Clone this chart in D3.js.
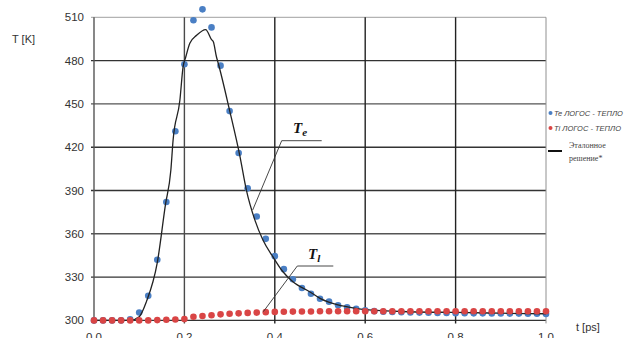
<!DOCTYPE html>
<html>
<head>
<meta charset="utf-8">
<script src="https://cdn.jsdelivr.net/npm/d3@7"></script>
<style>
  body { margin: 0; background: #fff; }
  svg { display: block; }
</style>
</head>
<body>
<div id="chart"></div>
<script>
// time points of the LOGOS series (ps)
const times = [0.00, 0.02, 0.04, 0.06, 0.08, 0.10, 0.12, 0.14, 0.16, 0.18,
  0.20, 0.22, 0.24, 0.26, 0.28, 0.30, 0.32, 0.34, 0.36, 0.38,
  0.40, 0.42, 0.44, 0.46, 0.48, 0.50, 0.52, 0.54, 0.56, 0.58,
  0.60, 0.62, 0.64, 0.66, 0.68, 0.70, 0.72, 0.74, 0.76, 0.78,
  0.80, 0.82, 0.84, 0.86, 0.88, 0.90, 0.92, 0.94, 0.96, 0.98, 1.00];

// Te LOGOS-TEPLO (K)
const teLogos = [300, 300, 300, 300, 300.7, 305.5, 317, 342, 382, 431,
  477.5, 508, 515.5, 503, 476.5, 445, 416, 391.5, 372, 356.5,
  344.5, 335.5, 328.5, 322.5, 318.5, 315, 313, 310.5, 309, 308,
  307, 306.4, 306, 305.8, 305.6, 305.5, 305.4, 305.3, 305.2, 305.1,
  305, 305, 304.9, 304.9, 304.8, 304.8, 304.7, 304.7, 304.6, 304.6, 304.5];

// Ti LOGOS-TEPLO (K)
const tiLogos = [300, 300, 300, 300, 300, 300, 300, 300.2, 300.4, 300.6,
  300.9, 302.5, 303.1, 303.6, 304.2, 304.6, 304.9, 305.2, 305.4, 305.7,
  305.9, 306, 306.1, 306.2, 306.2, 306.3, 306.3, 306.3, 306.3, 306.3,
  306.3, 306.3, 306.3, 306.3, 306.3, 306.3, 306.3, 306.3, 306.3, 306.3,
  306.3, 306.3, 306.3, 306.3, 306.3, 306.3, 306.3, 306.3, 306.3, 306.3, 306.3];

// reference ("etalon") solution for Te
const refT = [0.00, 0.08, 0.10, 0.116, 0.14, 0.158, 0.17, 0.175, 0.19, 0.197, 0.203,
  0.212, 0.227, 0.247, 0.26, 0.264, 0.271, 0.275, 0.30, 0.323, 0.337, 0.356,
  0.374, 0.396, 0.418, 0.44, 0.477, 0.50, 0.55, 0.60, 0.70, 0.80, 0.90, 1.00];
const refV = [300, 300, 302.5, 313, 340, 380, 404, 425, 452.5, 475.5, 482.5,
  492, 497.5, 501.5, 494.5, 493, 482.5, 478, 445.5, 413.5, 390.5, 369.5,
  355.5, 344, 333.7, 326.8, 319.9, 315.3, 310, 307.5, 306, 305.5, 305, 304.6];

const yTicks = [300, 330, 360, 390, 420, 450, 480, 510];
const xTicks = [0.0, 0.2, 0.4, 0.6, 0.8, 1.0];

const width = 625, height = 338;
const svg = d3.select('#chart').append('svg').attr('width', width).attr('height', height);

const x = d3.scaleLinear().domain([0, 1]).range([94, 546]);
const y = d3.scaleLinear().domain([300, 510]).range([320.4, 17.3]);

const grid = svg.append('g');

// horizontal grid
grid.selectAll('line.h').data(yTicks).enter().append('line')
  .attr('x1', x(0) - 3).attr('x2', x(1))
  .attr('y1', d => y(d)).attr('y2', d => y(d))
  .attr('stroke', d => d === 510 ? '#a0a0a0' : (d === 450 || d === 360 ? '#555' : '#333'))
  .attr('stroke-width', d => d === 510 ? 1 : 1.4);

// vertical grid
grid.selectAll('line.v').data(xTicks).enter().append('line')
  .attr('x1', d => x(d)).attr('x2', d => x(d))
  .attr('y1', y(510)).attr('y2', y(300) + 3)
  .attr('stroke', d => d === 0 ? '#555' : (d === 1 ? '#909090' : (d === 0.2 ? '#4a4a4a' : '#222')))
  .attr('stroke-width', d => d === 1 ? 1 : 1.4);

// tick labels
svg.append('g').selectAll('text').data(yTicks).enter().append('text')
  .attr('x', 84).attr('y', d => y(d) + 4)
  .attr('text-anchor', 'end')
  .attr('font-family', 'Arial, Liberation Sans, sans-serif').attr('font-size', 11.5)
  .attr('fill', '#333')
  .text(d => d);

svg.append('g').selectAll('text').data(xTicks).enter().append('text')
  .attr('x', d => x(d)).attr('y', 341)
  .attr('text-anchor', 'middle')
  .attr('font-family', 'Arial, Liberation Sans, sans-serif').attr('font-size', 11.5)
  .attr('fill', '#333')
  .text(d => d.toFixed(1));

svg.append('text').attr('x', 12).attr('y', 43)
  .attr('font-family', 'Arial, Liberation Sans, sans-serif').attr('font-size', 11)
  .attr('fill', '#333').text('T [K]');
svg.append('text').attr('x', 576).attr('y', 331)
  .attr('font-family', 'Arial, Liberation Sans, sans-serif').attr('font-size', 11)
  .attr('fill', '#333').text('t [ps]');

// series points
const te = times.map((t, i) => ({ t: t, v: teLogos[i] }));
const ti = times.map((t, i) => ({ t: t, v: tiLogos[i] }));

svg.append('g').selectAll('circle').data(te).enter().append('circle')
  .attr('cx', d => x(d.t)).attr('cy', d => y(d.v)).attr('r', 3.3)
  .attr('fill', '#4a7fc4');

// reference solution line
const ref = refT.map((t, i) => ({ t: t, v: refV[i] }));
const line = d3.line().x(d => x(d.t)).y(d => y(d.v)).curve(d3.curveMonotoneX);
svg.append('path').datum(ref).attr('d', line)
  .attr('fill', 'none').attr('stroke', '#222').attr('stroke-width', 1.3);

svg.append('g').selectAll('circle').data(ti).enter().append('circle')
  .attr('cx', d => x(d.t)).attr('cy', d => y(d.v)).attr('r', 3.3)
  .attr('fill', '#d94545');

// annotations
const ann = svg.append('g').attr('fill', 'none').attr('stroke', '#333').attr('stroke-width', 0.9);
ann.append('polyline').attr('points', '252.7,210 281.7,140.7 321.7,140.7');
ann.append('polyline').attr('points', '263.3,311.7 297.3,266 333.3,266');

const lab = svg.append('g').attr('font-family', 'Liberation Serif, Times New Roman, serif')
  .attr('font-style', 'italic').attr('font-weight', 'bold').attr('fill', '#111');
const l1 = lab.append('text').attr('x', 293).attr('y', 133).attr('font-size', 15);
l1.append('tspan').text('T');
l1.append('tspan').attr('font-size', 11).attr('dy', 3).text('e');
const l2 = lab.append('text').attr('x', 308).attr('y', 259).attr('font-size', 15);
l2.append('tspan').text('T');
l2.append('tspan').attr('font-size', 11).attr('dy', 3).text('l');

// legend
const leg = svg.append('g').attr('font-size', 7.5).attr('fill', '#444');
leg.append('circle').attr('cx', 550.5).attr('cy', 113).attr('r', 2).attr('fill', '#4a7fc4');
leg.append('text').attr('x', 554).attr('y', 115.5)
  .attr('font-family', 'Arial, Liberation Sans, sans-serif').attr('font-style', 'italic')
  .text('Te ЛОГОС - ТЕПЛО');
leg.append('circle').attr('cx', 550.5).attr('cy', 128).attr('r', 2).attr('fill', '#d94545');
leg.append('text').attr('x', 554).attr('y', 130.5)
  .attr('font-family', 'Arial, Liberation Sans, sans-serif').attr('font-style', 'italic')
  .text('Ti ЛОГОС - ТЕПЛО');
leg.append('line').attr('x1', 548).attr('x2', 562).attr('y1', 151).attr('y2', 151)
  .attr('stroke', '#111').attr('stroke-width', 2);
leg.append('text').attr('x', 569).attr('y', 147.5)
  .attr('font-family', 'Liberation Serif, Times New Roman, serif').attr('font-size', 8)
  .text('Эталонное');
leg.append('text').attr('x', 569).attr('y', 161)
  .attr('font-family', 'Liberation Serif, Times New Roman, serif').attr('font-size', 8)
  .text('решение*');
</script>
</body>
</html>
